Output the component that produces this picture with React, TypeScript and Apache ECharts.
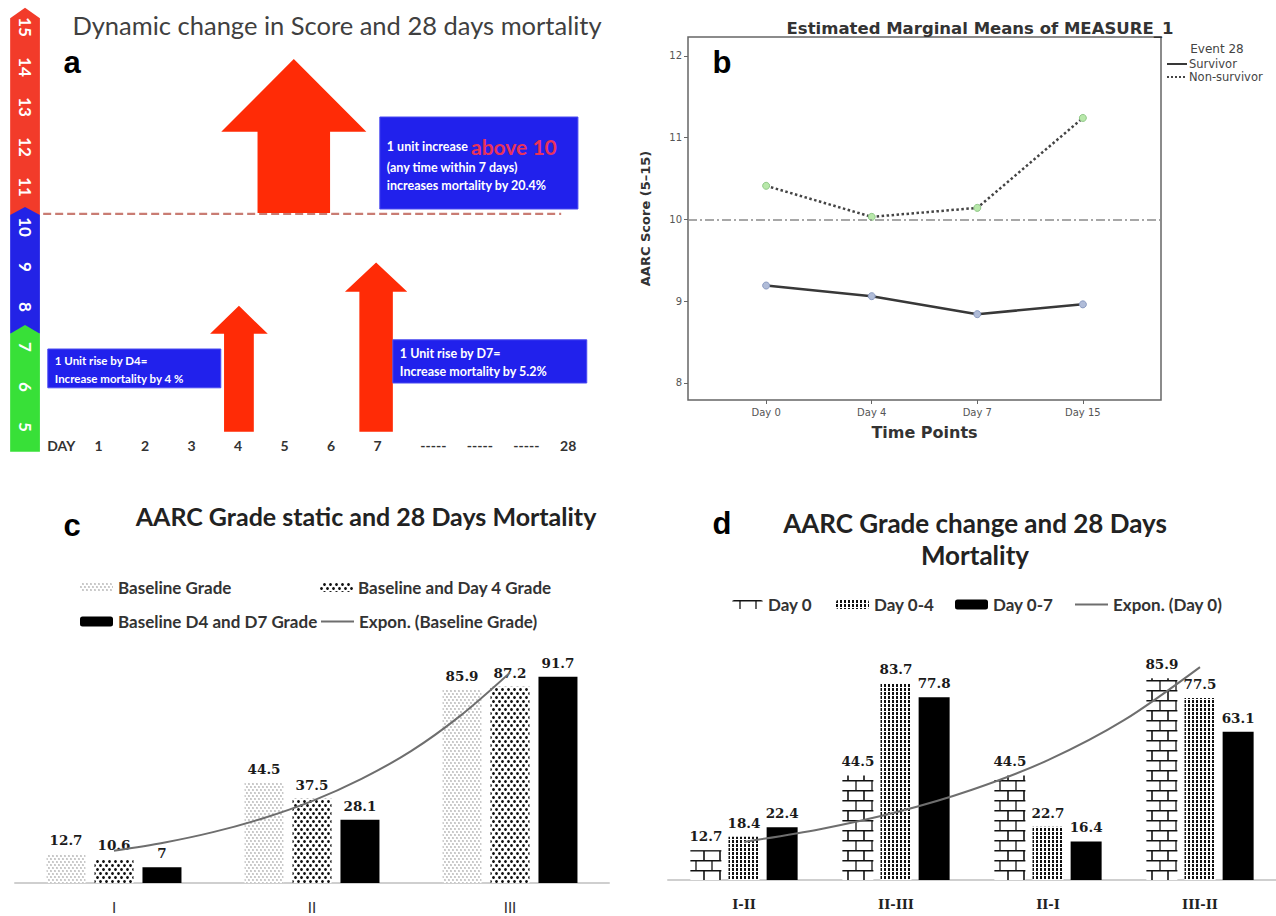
import React, { useEffect, useRef } from 'react';
import * as echarts from 'echarts';

// ---------- Panel a (infographic on a day / score scale) ----------
const dayLabels = ['DAY', '1', '2', '3', '4', '5', '6', '7', '-----', '-----', '-----', '28'];
const dayPositions = [0.2, 1, 2, 3, 4, 5, 6, 7, 8.2, 9.2, 10.2, 11.1];
const scaleNumbers = [5, 6, 7, 8, 9, 10, 11, 12, 13, 14, 15];
const scaleNumberX = -0.58;
// [low, high, chevron tip]
const scaleBands = [
  [10.3, 15.22, 15.48],
  [7.33, 10.3, 10.5],
  [4.38, 7.33, 7.55],
];
const scaleColors = ['#f23b2a', '#2323e6', '#38e038'];
const scaleBarX = [-0.9, -0.26];
// [x, bottom, headBase, tip, shaftHalf, headHalf]
const arrowsA = [
  [4.02, 4.88, 7.33, 8.03, 0.32, 0.62],
  [6.97, 4.88, 8.38, 9.11, 0.36, 0.67],
  [5.2, 10.35, 12.38, 14.2, 0.78, 1.56],
];
// [x0, x1, top, bottom]
const noteBoxes = [
  [7.05, 11.31, 12.75, 10.45],
  [-0.09, 3.63, 6.95, 5.98],
  [7.33, 11.5, 7.18, 6.1],
];
const noteTexts = [
  '{w|1 unit increase }{r|above 10}\n{w|(any time within 7 days)}\n{w|increases mortality by 20.4%}',
  '{s|1 Unit rise by D4=}\n{s|Increase mortality by 4 %}',
  '{w|1 Unit rise by D7=}\n{w|Increase mortality by 5.2%}',
];
const thresholdLine = [[-0.19, 10.33], [10.95, 10.33]];

// ---------- Panel b ----------
const timePoints = ['Day 0', 'Day 4', 'Day 7', 'Day 15'];
const timeX = [0, 1, 2, 3];
const survivor = [9.19, 9.06, 8.84, 8.96];
const nonSurvivor = [10.41, 10.03, 10.14, 11.24];
const bTicks = [8, 9, 10, 11, 12];
const bReference = 10;

// ---------- Panel c ----------
const gradesC = ['I', 'II', 'III'];
const baselineGrade = [12.7, 44.5, 85.9];
const baselineDay4 = [10.6, 37.5, 87.2];
const baselineD4D7 = [7, 28.1, 91.7];
const trendXC = [1, 1.25, 1.5, 1.75, 2, 2.25, 2.5, 2.75, 3];
const trendC = [14.3, 17.9, 22.6, 28.7, 36.4, 46.3, 58.6, 74.4, 93.5];

// ---------- Panel d ----------
const gradesD = ['I-II', 'II-III', 'II-I', 'III-II'];
const day0 = [12.7, 44.5, 44.5, 85.9];
const day04 = [18.4, 83.7, 22.7, 77.5];
const day07 = [22.4, 77.8, 16.4, 63.1];
const trendXD = [1, 1.5, 2, 2.5, 3, 3.5, 4];
const trendD = [16.2, 21.6, 28.8, 38.4, 51, 68, 90.6];

const LATO = 'Lato, "Open Sans", sans-serif';
const SERIF = '"DejaVu Serif", serif';
const SPSS = '"DejaVu Sans", sans-serif';

const lightDots = {
  symbol: 'circle',
  symbolSize: 0.75,
  color: '#9c9c9c',
  dashArrayX: [[2, 2], [0, 2, 2, 0]],
  dashArrayY: [2, 1],
};
const darkDots = {
  symbol: 'circle',
  symbolSize: 0.95,
  color: '#111',
  dashArrayX: [[3, 3], [0, 3, 3, 0]],
  dashArrayY: [3, 1],
};
const brick = {
  symbol: 'path://M0,0H100V7H0Z M0,50H100V57H0Z M46,0H54V50H46Z M0,50H5V100H0Z M95,50H100V100H95Z',
  symbolSize: 1,
  symbolKeepAspect: false,
  color: '#111',
  dashArrayX: [16, 0],
  dashArrayY: [20, 0],
};
const stripes = {
  symbol: 'rect',
  symbolSize: 1,
  color: '#111',
  dashArrayX: [1.5, 1.8],
  dashArrayY: [3, 0.7],
};

const barLabel = {
  show: true,
  position: 'top',
  distance: 7,
  fontFamily: SERIF,
  fontWeight: 'bold',
  fontSize: 13.5,
  color: '#1a1a1a',
};

function centered(x: number, y: number, text: string, font: string, fill: string, extra: any = {}) {
  return {
    type: 'text', x, y,
    style: { text, fill, font, align: 'center', verticalAlign: 'middle', textAlign: 'center', textVerticalAlign: 'middle', ...extra },
  };
}

function buildOption() {
  const legendText = { fontFamily: LATO, fontWeight: 'bold', fontSize: 17, color: '#333' };
  const legendBase = { padding: 0, itemGap: 0, textStyle: legendText };
  const LETTER = 'bold 31px "Liberation Sans", Arial, sans-serif';

  return {
    animation: false,
    backgroundColor: '#fff',
    grid: [
      { left: 5.5, top: 3, width: 604.5, height: 427 },
      { left: 688, top: 37, width: 473, height: 363, show: true, borderColor: '#666', borderWidth: 1.5 },
      { left: 15, top: 658, width: 594, height: 225 },
      { left: 668, top: 645, width: 608, height: 235 },
    ],
    xAxis: [
      {
        type: 'value', gridIndex: 0, min: -1, max: 12,
        axisLine: { show: false, onZero: false }, axisTick: { show: false }, splitLine: { show: false },
        axisLabel: {
          customValues: dayPositions,
          formatter: (v: number) => {
            const i = dayPositions.findIndex((p) => Math.abs(p - v) < 1e-6);
            return i >= 0 ? dayLabels[i] : '';
          },
          margin: 8,
          fontFamily: LATO, fontWeight: 'bold', fontSize: 14, color: '#333',
        },
      },
      {
        type: 'value', gridIndex: 1, min: -0.74, max: 3.74,
        axisLine: { show: false, onZero: false },
        splitLine: { show: false },
        axisTick: { show: true, customValues: timeX, length: 4, lineStyle: { color: '#666' } },
        axisLabel: {
          customValues: timeX,
          formatter: (v: number) => timePoints[Math.round(v)] ?? '',
          fontFamily: SPSS, fontSize: 10, color: '#555', margin: 7,
        },
        name: 'Time Points', nameLocation: 'middle', nameGap: 24,
        nameTextStyle: { fontFamily: SPSS, fontWeight: 'bold', fontSize: 16, color: '#333' },
      },
      {
        type: 'category', gridIndex: 2, data: gradesC,
        axisLine: { show: true, lineStyle: { color: '#cfcfcf', width: 2 } },
        axisTick: { show: false },
        axisLabel: { fontFamily: LATO, fontSize: 15, color: '#333', margin: 16 },
      },
      { type: 'value', gridIndex: 2, min: 0.5, max: 3.5, show: false },
      {
        type: 'category', gridIndex: 3, data: gradesD,
        axisLine: { show: true, lineStyle: { color: '#cfcfcf', width: 2 } },
        axisTick: { show: false },
        axisLabel: { fontFamily: SERIF, fontWeight: 'bold', fontSize: 13, color: '#222', margin: 18 },
      },
      { type: 'value', gridIndex: 3, min: 0.5, max: 4.5, show: false },
    ],
    yAxis: [
      { type: 'value', gridIndex: 0, min: 4.925, max: 15.6, show: false },
      {
        type: 'value', gridIndex: 1, min: 7.79, max: 12.23,
        axisLine: { show: false, onZero: false }, splitLine: { show: false },
        axisTick: { show: true, customValues: bTicks, length: 4, lineStyle: { color: '#666' } },
        axisLabel: { customValues: bTicks, fontFamily: SPSS, fontSize: 10, color: '#555', margin: 6 },
        name: 'AARC Score (5–15)', nameLocation: 'middle', nameGap: 36,
        nameTextStyle: { fontFamily: SPSS, fontWeight: 'bold', fontSize: 13, color: '#333' },
      },
      { type: 'value', gridIndex: 2, min: 0, max: 100, show: false },
      { type: 'value', gridIndex: 3, min: 0, max: 100, show: false },
    ],
    legend: [
      {
        ...legendBase,
        data: ['Survivor', 'Non-survivor'],
        orient: 'vertical', left: 1166, top: 58,
        itemWidth: 20, itemHeight: 6, itemGap: 1,
        itemStyle: { opacity: 0 },
        textStyle: { fontFamily: SPSS, fontSize: 11.5, color: '#444', lineHeight: 9, padding: [0, 0, 0, -3] },
      },
      { ...legendBase, data: ['Baseline Grade'], left: 80, top: 579, itemWidth: 33, itemHeight: 9 },
      { ...legendBase, data: ['Baseline and Day 4 Grade'], left: 320, top: 579, itemWidth: 33, itemHeight: 9 },
      { ...legendBase, data: ['Baseline D4 and D7 Grade'], left: 80, top: 613, itemWidth: 33, itemHeight: 10 },
      { ...legendBase, data: ['Expon. (Baseline Grade)'], left: 320, top: 613, itemWidth: 33, itemHeight: 9, itemStyle: { opacity: 0 } },
      { ...legendBase, data: ['Day 0'], left: 732, top: 596, itemWidth: 31, itemHeight: 9 },
      { ...legendBase, data: ['Day 0-4'], left: 836, top: 596, itemWidth: 33, itemHeight: 9 },
      { ...legendBase, data: ['Day 0-7'], left: 955, top: 596, itemWidth: 33, itemHeight: 10 },
      { ...legendBase, data: ['Expon. (Day 0)'], left: 1074, top: 596, itemWidth: 33, itemHeight: 9, itemStyle: { opacity: 0 } },
    ],
    graphic: [
      centered(337, 25, 'Dynamic change in Score and 28 days mortality', `25.5px ${LATO}`, '#404040'),
      centered(72, 62, 'a', LETTER, '#000'),
      centered(722, 62, 'b', LETTER, '#000'),
      centered(72, 525, 'c', LETTER, '#000'),
      centered(722, 523, 'd', LETTER, '#000'),
      centered(980, 28, 'Estimated Marginal Means of MEASURE_1', `bold 16.5px ${SPSS}`, '#333'),
      centered(1217, 49, 'Event 28', `12px ${SPSS}`, '#444'),
      centered(366, 516, 'AARC Grade static and 28 Days Mortality', `bold 25px ${LATO}`, '#222'),
      centered(975, 539, 'AARC Grade change and 28 Days\nMortality', `bold 26px ${LATO}`, '#222', { lineHeight: 32 }),
    ],
    series: [
      // ----- panel a -----
      {
        type: 'line', name: 'threshold', xAxisIndex: 0, yAxisIndex: 0,
        data: thresholdLine, symbol: 'none', silent: true, z: 2,
        lineStyle: { color: '#c97c73', width: 2.2, type: [8, 4] },
      },
      {
        type: 'custom', name: 'scale', xAxisIndex: 0, yAxisIndex: 0, z: 3, silent: true,
        data: scaleBands,
        renderItem: (params: any, api: any) => {
          const lo = api.value(0), hi = api.value(1), tip = api.value(2);
          const xm = (scaleBarX[0] + scaleBarX[1]) / 2;
          return {
            type: 'polygon',
            shape: {
              points: [
                api.coord([scaleBarX[0], lo]),
                api.coord([scaleBarX[1], lo]),
                api.coord([scaleBarX[1], hi]),
                api.coord([xm, tip]),
                api.coord([scaleBarX[0], hi]),
              ],
            },
            style: { fill: scaleColors[params.dataIndex] },
          };
        },
      },
      {
        type: 'custom', name: 'scaleNumbers', xAxisIndex: 0, yAxisIndex: 0, z: 4, silent: true,
        data: scaleNumbers.map((v) => [scaleNumberX, v]),
        renderItem: (params: any, api: any) => {
          const p = api.coord([api.value(0), api.value(1)]);
          return {
            type: 'text', x: p[0], y: p[1], rotation: -Math.PI / 2,
            style: {
              text: String(api.value(1)), fill: '#fff', font: `bold 17px ${LATO}`,
              align: 'center', verticalAlign: 'middle',
            },
          };
        },
      },
      {
        type: 'custom', name: 'arrows', xAxisIndex: 0, yAxisIndex: 0, z: 3, silent: true,
        data: arrowsA,
        renderItem: (params: any, api: any) => {
          const x = api.value(0), b = api.value(1), hb = api.value(2), t = api.value(3);
          const s = api.value(4), h = api.value(5);
          return {
            type: 'polygon',
            shape: {
              points: [
                api.coord([x - s, b]), api.coord([x + s, b]), api.coord([x + s, hb]),
                api.coord([x + h, hb]), api.coord([x, t]), api.coord([x - h, hb]),
                api.coord([x - s, hb]),
              ],
            },
            style: { fill: '#ff2b06' },
          };
        },
      },
      {
        type: 'custom', name: 'notes', xAxisIndex: 0, yAxisIndex: 0, z: 4, silent: true,
        data: noteBoxes,
        renderItem: (params: any, api: any) => {
          const p0 = api.coord([api.value(0), api.value(2)]);
          const p1 = api.coord([api.value(1), api.value(3)]);
          return {
            type: 'group',
            children: [
              {
                type: 'rect',
                shape: { x: p0[0], y: p0[1], width: p1[0] - p0[0], height: p1[1] - p0[1] },
                style: { fill: '#2121ec', stroke: '#4a4af0', lineWidth: 1 },
              },
              {
                type: 'text', x: p0[0] + 7, y: (p0[1] + p1[1]) / 2 + 1,
                style: {
                  text: noteTexts[params.dataIndex], align: 'left', verticalAlign: 'middle',
                  rich: {
                    w: { fill: '#fff', fontFamily: LATO, fontWeight: 'bold', fontSize: 12.5, lineHeight: 18 },
                    s: { fill: '#fff', fontFamily: LATO, fontWeight: 'bold', fontSize: 11.5, lineHeight: 18 },
                    r: { fill: '#e8335a', fontFamily: LATO, fontWeight: 'bold', fontSize: 21, lineHeight: 24 },
                  },
                },
              },
            ],
          };
        },
      },
      // ----- panel b -----
      {
        type: 'line', name: 'Survivor', xAxisIndex: 1, yAxisIndex: 1,
        data: timeX.map((x, i) => [x, survivor[i]]),
        symbol: 'circle', symbolSize: 7,
        lineStyle: { color: '#383838', width: 2.5 },
        itemStyle: { color: '#b0bcd8', borderColor: '#8a9ac0', borderWidth: 1 },
        markLine: {
          silent: true, symbol: 'none', label: { show: false },
          lineStyle: { color: '#8a8a8a', width: 1.5, type: [9, 3, 2, 3] },
          data: [{ yAxis: bReference }],
        },
      },
      {
        type: 'line', name: 'Non-survivor', xAxisIndex: 1, yAxisIndex: 1,
        data: timeX.map((x, i) => [x, nonSurvivor[i]]),
        symbol: 'circle', symbolSize: 7,
        lineStyle: { color: '#444', width: 2.5, type: 'dotted' },
        itemStyle: { color: '#b8e8aa', borderColor: '#90c888', borderWidth: 1 },
      },
      // ----- panel c -----
      {
        type: 'bar', name: 'Baseline Grade', xAxisIndex: 2, yAxisIndex: 2,
        data: baselineGrade, barWidth: 39, barGap: '23%',
        itemStyle: { color: '#fff', decal: lightDots }, label: barLabel,
      },
      {
        type: 'bar', name: 'Baseline and Day 4 Grade', xAxisIndex: 2, yAxisIndex: 2,
        data: baselineDay4, barWidth: 39, barGap: '23%',
        itemStyle: { color: '#fff', decal: darkDots }, label: barLabel,
      },
      {
        type: 'bar', name: 'Baseline D4 and D7 Grade', xAxisIndex: 2, yAxisIndex: 2,
        data: baselineD4D7, barWidth: 39, barGap: '23%',
        itemStyle: { color: '#000' }, label: barLabel,
      },
      {
        type: 'line', name: 'Expon. (Baseline Grade)', xAxisIndex: 3, yAxisIndex: 2,
        data: trendXC.map((x, i) => [x, trendC[i]]), smooth: 0.3, symbol: 'none', z: 5,
        lineStyle: { color: '#6e6e6e', width: 2 }, itemStyle: { color: '#6e6e6e' },
      },
      // ----- panel d -----
      {
        type: 'bar', name: 'Day 0', xAxisIndex: 4, yAxisIndex: 3,
        data: day0, barWidth: 31, barGap: '23%',
        itemStyle: { color: '#fff', decal: brick }, label: barLabel,
      },
      {
        type: 'bar', name: 'Day 0-4', xAxisIndex: 4, yAxisIndex: 3,
        data: day04, barWidth: 31, barGap: '23%',
        itemStyle: { color: '#fff', decal: stripes }, label: barLabel,
      },
      {
        type: 'bar', name: 'Day 0-7', xAxisIndex: 4, yAxisIndex: 3,
        data: day07, barWidth: 31, barGap: '23%',
        itemStyle: { color: '#000' }, label: barLabel,
      },
      {
        type: 'line', name: 'Expon. (Day 0)', xAxisIndex: 5, yAxisIndex: 3,
        data: trendXD.map((x, i) => [x, trendD[i]]), smooth: 0.3, symbol: 'none', z: 5,
        lineStyle: { color: '#6e6e6e', width: 2 }, itemStyle: { color: '#6e6e6e' },
      },
    ],
  };
}

export default function App() {
  const ref = useRef<HTMLDivElement>(null);
  useEffect(() => {
    if (!ref.current) return;
    const chart = echarts.init(ref.current, undefined, { renderer: 'svg' });
    chart.setOption(buildOption() as any);
    return () => chart.dispose();
  }, []);
  return (
    <div
      ref={ref}
      style={{ position: 'fixed', left: 0, top: 0, width: 1276, height: 916, background: '#fff' }}
    />
  );
}
